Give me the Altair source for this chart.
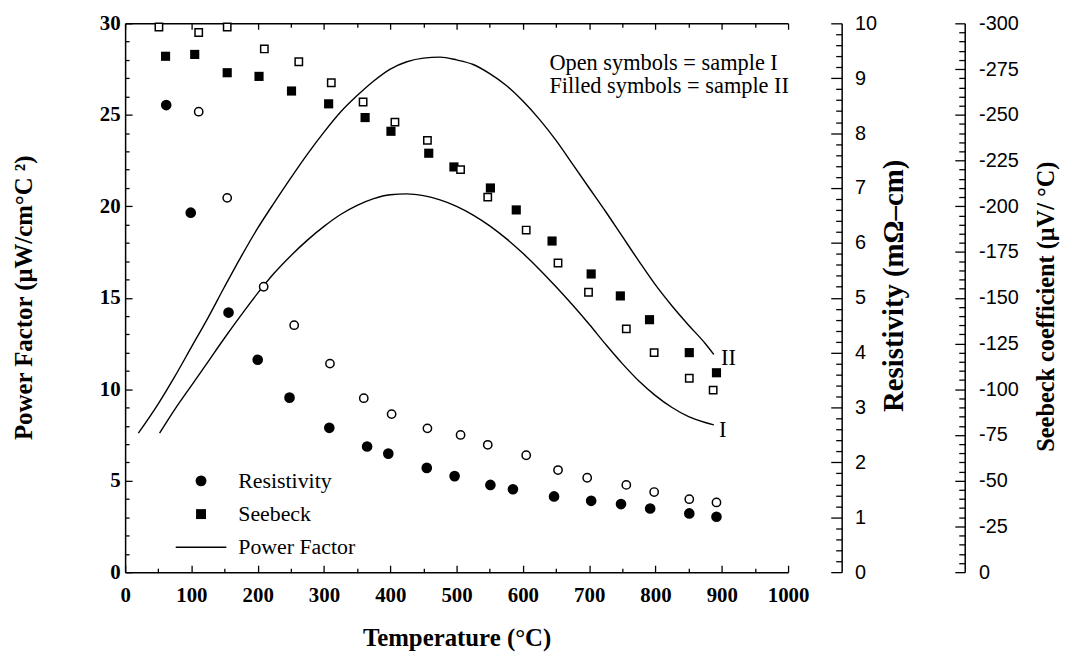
import altair as alt
import pandas as pd

# ---------------- data ----------------
# Power factor curves (uW/cm C^2) vs temperature (C)
pf_II_T = [20, 50, 75, 100, 125, 150, 175, 200, 225, 250, 275, 300, 325, 350, 375, 400, 425, 450, 475, 500,
           525, 550, 575, 600, 625, 650, 675, 700, 725, 750, 775, 800, 825, 850, 875, 888]
pf_II = [7.6, 9.2, 10.7, 12.3, 13.9, 15.6, 17.25, 18.8, 20.2, 21.55, 22.85, 24.05, 25.15, 26.05, 26.85, 27.5, 27.9, 28.1, 28.15, 28.0,
         27.75, 27.25, 26.6, 25.75, 24.75, 23.6, 22.3, 21.0, 19.7, 18.35, 17.0, 15.7, 14.55, 13.5, 12.5, 11.9]
pf_I_T = [52, 75, 100, 125, 150, 175, 200, 225, 250, 275, 300, 325, 350, 375, 400, 425, 450, 475, 500,
          525, 550, 575, 600, 625, 650, 675, 700, 725, 750, 775, 800, 825, 850, 875, 888]
pf_I = [7.6, 8.9, 10.2, 11.5, 12.8, 14.05, 15.25, 16.35, 17.3, 18.15, 18.9, 19.55, 20.05, 20.42, 20.63, 20.68, 20.58, 20.35, 20.0,
        19.52, 18.93, 18.23, 17.43, 16.55, 15.6, 14.6, 13.55, 12.45, 11.4, 10.45, 9.65, 9.0, 8.5, 8.18, 8.05]

# Resistivity (mOhm-cm)
res_II_T = [62, 99, 156, 200, 248, 308, 365, 397, 455, 497, 551, 585, 647, 703, 748, 792, 851, 892]
res_II = [8.51, 6.55, 4.73, 3.87, 3.18, 2.63, 2.29, 2.16, 1.90, 1.75, 1.59, 1.51, 1.38, 1.30, 1.24, 1.16, 1.07, 1.01]
res_I_T = [111, 154, 209, 255, 309, 360, 402, 456, 506, 547, 605, 653, 697, 756, 798, 851, 892]
res_I = [8.39, 6.82, 5.20, 4.50, 3.80, 3.17, 2.88, 2.62, 2.50, 2.32, 2.13, 1.86, 1.72, 1.59, 1.46, 1.33, 1.27]

# Seebeck coefficient (uV/C)
see_I_T = [51, 111, 154, 210, 262, 311, 359, 407, 456, 506, 547, 605, 653, 699, 756, 798, 851, 887]
see_I = [-298, -295, -298, -286, -279, -267.5, -257, -246, -236, -220, -205, -187, -169, -153, -133, -120, -106, -99.5]
see_II_T = [61, 105, 154, 202, 251, 307, 362, 401, 458, 496, 551, 590, 644, 703, 747, 791, 851, 892]
see_II = [-282, -283, -273, -271, -263, -256, -248.5, -241, -229, -221.5, -210, -198, -181, -163, -151, -138, -120, -109]

# annotations
ann_text = ["Open symbols = sample I", "Filled symbols = sample II"]
ann_T = [640, 640]
ann_PF = [27.45, 26.20]
curve_lab = ["II", "I"]
curve_lab_T = [899, 896]
curve_lab_PF = [11.34, 7.38]

legend_items = ["Resistivity", "Seebeck", "Power Factor"]
legend_shapes = ["circle", "square", "M-2.55,-0.075L2.55,-0.075L2.55,0.075L-2.55,0.075Z"]
legend_sizes = [121, 100, 400]

# ticks
x_major = list(range(0, 1001, 100))
x_minor = list(range(50, 1000, 100))
pf_major = list(range(0, 31, 5))
pf_minor = [v for v in range(0, 31) if v % 5]
res_major = list(range(0, 11))
res_minor = [round(i * 0.2, 1) for i in range(51) if i % 5]
see_major = list(range(0, -301, -25))
see_minor = [v for v in range(0, -301, -5) if v % 25]

# ---------------- styling ----------------
SERIF = "Liberation Serif"
SANS = "Liberation Sans"
W, H = 668, 553
RES_OFF = 54
SEE_OFF = 178

x_scale = alt.Scale(domain=[0, 1000], nice=False, zero=False)
pf_scale = alt.Scale(domain=[0, 30], nice=False, zero=False)
res_scale = alt.Scale(domain=[0, 10], nice=False, zero=False)
see_scale = alt.Scale(domain=[0, -300], nice=False, zero=False)


def tick_axis(orient, offset, values, size, domain=False):
    return alt.Axis(orient=orient, offset=offset, values=values, labels=False, ticks=True,
                    tickSize=size, tickColor="black", tickWidth=1.3, domain=domain,
                    domainColor="black", domainWidth=1.5, grid=False, title=None)


def label_axis(orient, offset, values, font, fsize, weight, pad, title, tx, ty, angle, baseline, domain,
               tsize=25):
    return alt.Axis(orient=orient, offset=offset, values=values, ticks=False, domain=domain,
                    domainColor="black", domainWidth=1.5, labels=True, labelFont=font,
                    labelFontSize=fsize, labelFontWeight=weight, labelColor="black",
                    labelPadding=pad, labelFlush=False, labelOverlap=False,
                    labelExpr="toString(datum.value)", grid=False, title=title,
                    titleFont=SERIF, titleFontSize=tsize, titleFontWeight="bold", titleColor="black",
                    titleX=tx, titleY=ty, titleAngle=angle, titleAlign="center",
                    titleBaseline=baseline)


dummy = pd.DataFrame({"T": [0], "v": [0]})


def ghost(xaxis, yscale, yaxis):
    return alt.Chart(dummy).mark_point(opacity=0).encode(
        x=alt.X("T:Q", scale=x_scale, axis=xaxis),
        y=alt.Y("v:Q", scale=yscale, axis=yaxis))


curves = pd.DataFrame({
    "T": pf_II_T + pf_I_T,
    "PF": pf_II + pf_I,
    "sample": ["II"] * len(pf_II) + ["I"] * len(pf_I),
})

lines = alt.Chart(curves).mark_line(color="black", strokeWidth=1.4, interpolate="monotone").encode(
    x=alt.X("T:Q", scale=x_scale,
            axis=label_axis("bottom", 0, x_major, SERIF, 21, "bold", 13, "Temperature (°C)",
                            334, 74, 0, "alphabetic", True)),
    y=alt.Y("PF:Q", scale=pf_scale,
            axis=label_axis("left", 0, pf_major, SERIF, 21, "bold", 5, "Power Factor (μW/cm°C ²)",
                            -94, 276, 270, "alphabetic", True)),
    detail="sample:N",
)

g1 = ghost(tick_axis("top", -H, x_major, 7), pf_scale, tick_axis("right", -W, pf_major, 7))
g2 = ghost(tick_axis("top", -H, x_minor, 4), pf_scale, tick_axis("right", -W, pf_minor, 4))
g3 = ghost(tick_axis("bottom", -H, x_major, 6, True), res_scale,
           tick_axis("left", -(W + RES_OFF), res_major, 11, True))
g4 = ghost(tick_axis("bottom", -H, x_minor, 4), res_scale,
           tick_axis("left", -(W + RES_OFF), res_minor, 6))
g5 = ghost(None, see_scale, tick_axis("left", -(W + SEE_OFF), see_major, 10, True))
g6 = ghost(None, see_scale, tick_axis("left", -(W + SEE_OFF), see_minor, 6))

res_df_II = pd.DataFrame({"T": res_II_T, "v": res_II})
res_df_I = pd.DataFrame({"T": res_I_T, "v": res_I})
see_df_II = pd.DataFrame({"T": see_II_T, "v": see_II})
see_df_I = pd.DataFrame({"T": see_I_T, "v": see_I})

res_filled = alt.Chart(res_df_II).mark_point(shape="circle", filled=True, fill="black", size=115, opacity=1).encode(
    x=alt.X("T:Q", scale=x_scale, axis=None),
    y=alt.Y("v:Q", scale=res_scale,
            axis=label_axis("right", RES_OFF, res_major, SANS, 20, "normal", 13, "Resistivity (mΩ–cm)",
                            61, 264, 270, "alphabetic", False, tsize=29)),
)
res_open = alt.Chart(res_df_I).mark_point(shape="circle", filled=True, fill="white", stroke="black",
                                          strokeWidth=1.5, size=70, opacity=1).encode(
    x=alt.X("T:Q", scale=x_scale, axis=None),
    y=alt.Y("v:Q", scale=res_scale, axis=None),
)
see_filled = alt.Chart(see_df_II).mark_point(shape="square", filled=True, fill="black", size=85, opacity=1).encode(
    x=alt.X("T:Q", scale=x_scale, axis=None),
    y=alt.Y("v:Q", scale=see_scale,
            axis=label_axis("right", SEE_OFF, see_major, SANS, 20, "normal", 14,
                            "Seebeck coefficient (μV/ °C)", 89, 285, 270, "alphabetic", False,
                            tsize=24.5)),
)
see_open = alt.Chart(see_df_I).mark_point(shape="square", filled=True, fill="white", stroke="black",
                                          strokeWidth=1.5, size=55, opacity=1).encode(
    x=alt.X("T:Q", scale=x_scale, axis=None),
    y=alt.Y("v:Q", scale=see_scale, axis=None),
)

ann_df = pd.DataFrame({"T": ann_T + curve_lab_T, "PF": ann_PF + curve_lab_PF, "txt": ann_text + curve_lab})
ann = alt.Chart(ann_df).mark_text(font=SERIF, fontSize=22.5, align="left", baseline="alphabetic",
                                  color="black").encode(
    x=alt.X("T:Q", scale=x_scale, axis=None),
    y=alt.Y("PF:Q", scale=pf_scale, axis=None),
    text="txt:N",
)

leg = alt.Legend(title=None, orient="none", legendX=65.5, legendY=450, direction="vertical", padding=0,
                 labelFont=SERIF, labelFontSize=22, labelColor="black", labelOffset=26.5, rowPadding=11.5,
                 symbolFillColor="black", symbolStrokeWidth=0,
                 symbolOpacity=1, labelLimit=0)
leg_df = pd.DataFrame({"item": legend_items})
legend_layer = alt.Chart(leg_df).mark_point(filled=True, fill="black", opacity=1).encode(
    x=alt.value(-3000),
    y=alt.value(-3000),
    shape=alt.Shape("item:N", scale=alt.Scale(domain=legend_items, range=legend_shapes), legend=leg),
    size=alt.Size("item:N", scale=alt.Scale(type="ordinal", domain=legend_items, range=legend_sizes),
                  legend=leg),
)

chart = alt.layer(
    lines, g1, g2, g3, g4, g5, g6,
    see_filled, see_open, res_filled, res_open, ann, legend_layer,
).resolve_scale(x="independent", y="independent").properties(
    width=W, height=H,
    autosize=alt.AutoSizeParams(type="none"),
    padding={"left": 118, "top": 13, "right": 274, "bottom": 78},
    background="white",
).configure_view(stroke=None)

chart.save("out.html", embed_options={"renderer": "svg", "actions": False})
